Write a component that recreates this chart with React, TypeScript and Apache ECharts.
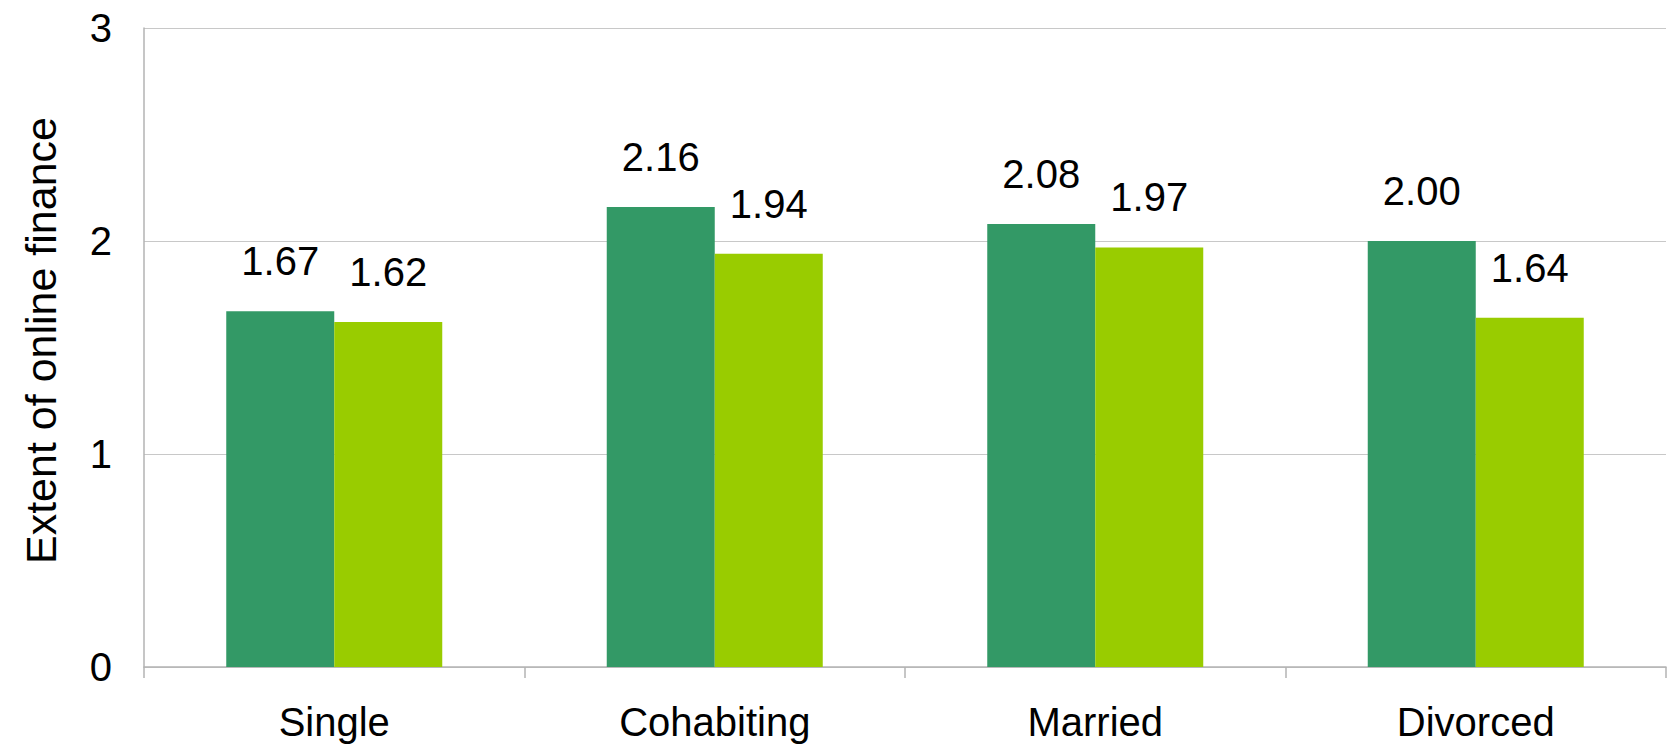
import React, { useEffect, useRef } from "react";
import * as echarts from "echarts";

const categories = ["Single", "Cohabiting", "Married", "Divorced"];
const seriesA = [1.67, 2.16, 2.08, 2.0];
const seriesB = [1.62, 1.94, 1.97, 1.64];
const yTicks = [0, 1, 2, 3];

export default function App() {
  const ref = useRef<HTMLDivElement>(null);
  useEffect(() => {
    const chart = echarts.init(ref.current!, null, { renderer: "svg" });
    const font = "'Liberation Sans', Arial, sans-serif";
    const label = {
      show: true,
      position: "top",
      distance: 30,
      color: "#000",
      fontSize: 40,
      fontFamily: font,
      formatter: (p: any) => Number(p.value).toFixed(2),
    };
    chart.setOption({
      animation: false,
      grid: {
        left: 144,
        right: 3,
        top: 28,
        bottom: 80,
        containLabel: false,
        outerBoundsMode: "none",
      },
      xAxis: {
        type: "category",
        data: categories,
        axisLine: { show: true, lineStyle: { color: "#b3b3b3", width: 1.5 } },
        axisTick: { show: true, length: 11, lineStyle: { color: "#b3b3b3", width: 1.5 } },
        axisLabel: { color: "#000", fontSize: 40, fontFamily: font, margin: 35 },
      },
      yAxis: {
        type: "value",
        min: yTicks[0],
        max: yTicks[yTicks.length - 1],
        interval: 1,
        name: "Extent of online finance",
        nameLocation: "middle",
        nameGap: 82,
        nameTextStyle: {
          color: "#000",
          fontSize: 43,
          fontFamily: font,
          padding: [0, 0, 0, 14],
        },
        axisLine: { show: true, lineStyle: { color: "#b3b3b3", width: 1.5 } },
        axisTick: { show: false },
        splitLine: { show: true, lineStyle: { color: "#c8c8c8", width: 1 } },
        axisLabel: { color: "#000", fontSize: 40, fontFamily: font, margin: 32 },
      },
      series: [
        {
          type: "bar",
          data: seriesA,
          barWidth: 108,
          barGap: "0%",
          itemStyle: { color: "#339966" },
          label,
        },
        {
          type: "bar",
          data: seriesB,
          barWidth: 108,
          barGap: "0%",
          itemStyle: { color: "#99CC00" },
          label,
        },
      ],
    });
    return () => chart.dispose();
  }, []);
  return (
    <div
      ref={ref}
      style={{ position: "absolute", left: 0, top: 0, width: 1669, height: 747 }}
    />
  );
}
